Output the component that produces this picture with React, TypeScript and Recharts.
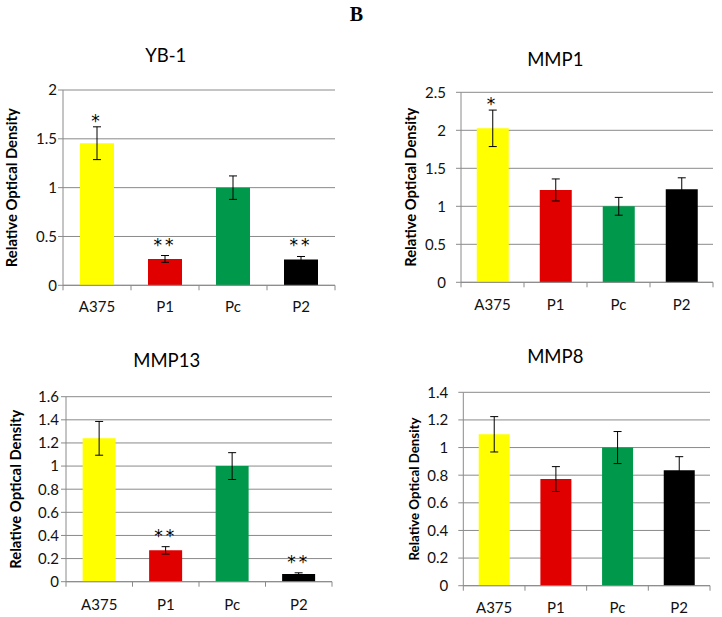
import React from 'react';
import { BarChart, Bar, XAxis, YAxis, CartesianGrid, ErrorBar, Cell, ReferenceDot, Label, Text } from 'recharts';

const categories = ['A375', 'P1', 'Pc', 'P2'];
const barColors = ['#FFFF00', '#E00000', '#00994C', '#000000'];

const yb1Values = [1.455, 0.27, 1.0, 0.265];
const yb1ErrLow = [0.168, 0.035, 0.12, 0.03];
const yb1ErrHigh = [0.168, 0.035, 0.12, 0.03];
const yb1Stars = ['*', '**', '', '**'];
const yb1Ticks = [0, 0.5, 1, 1.5, 2];

const mmp1Values = [2.026, 1.215, 1.0, 1.225];
const mmp1ErrLow = [0.24, 0.145, 0.117, 0.15];
const mmp1ErrHigh = [0.24, 0.145, 0.117, 0.15];
const mmp1Stars = ['*', '', '', ''];
const mmp1Ticks = [0, 0.5, 1, 1.5, 2, 2.5];

const mmp13Values = [1.24, 0.271, 1.0, 0.066];
const mmp13ErrLow = [0.146, 0.032, 0.116, 0.011];
const mmp13ErrHigh = [0.146, 0.032, 0.116, 0.011];
const mmp13Stars = ['', '**', '', '**'];
const mmp13Ticks = [0, 0.2, 0.4, 0.6, 0.8, 1, 1.2, 1.4, 1.6];

const mmp8Values = [1.096, 0.772, 1.0, 0.835];
const mmp8ErrLow = [0.128, 0.09, 0.116, 0.099];
const mmp8ErrHigh = [0.128, 0.09, 0.116, 0.099];
const mmp8Stars = ['', '', '', ''];
const mmp8Ticks = [0, 0.2, 0.4, 0.6, 0.8, 1, 1.2, 1.4];

const FONT = 'Lato, "Open Sans", sans-serif';
const GRID = '#8a8a8a';

type PanelProps = {
  left: number; top: number; width: number; height: number;
  margin: { top: number; right: number; bottom: number; left: number };
  yAxisWidth: number; yTickMargin: number; xTickMargin: number;
  title: string; titleX: number; titleTop: number;
  values: number[]; errLow: number[]; errHigh: number[]; stars: string[];
  ticks: number[]; labelSize: number; labelDx: number;
};

function CatTick(props: any) {
  const { x, y, payload, tickMargin, count } = props;
  const half = payload?.offset ?? 0;
  const axisY = y - tickMargin;
  const isLast = payload?.index === count - 1;
  return (
    <g>
      <line x1={x - half} x2={x - half} y1={axisY} y2={axisY + 5} stroke={GRID} />
      {isLast && <line x1={x + half} x2={x + half} y1={axisY} y2={axisY + 5} stroke={GRID} />}
      <Text x={x} y={y} textAnchor="middle" verticalAnchor="start" fontSize={15} fill="#111" fontFamily={FONT}>
        {payload?.value}
      </Text>
    </g>
  );
}

function Panel(p: PanelProps) {
  const rows = categories.map((c, i) => ({
    name: c,
    value: p.values[i],
    err: [p.errLow[i], p.errHigh[i]],
    top: p.values[i] + p.errHigh[i],
    star: p.stars[i],
  }));
  const domain = [p.ticks[0], p.ticks[p.ticks.length - 1]];
  return (
    <div style={{ position: 'absolute', left: p.left, top: p.top, width: p.width, height: p.height }}>
      <div style={{ position: 'absolute', left: p.titleX - 100, width: 200, top: p.titleTop, textAlign: 'center', fontFamily: FONT, fontSize: 18.5, lineHeight: '18.5px', color: '#000' }}>{p.title}</div>
      <BarChart width={p.width} height={p.height} data={rows} margin={p.margin} barCategoryGap="25%">
        <CartesianGrid vertical={false} stroke={GRID} />
        <XAxis xAxisId="cat" dataKey="name" height={1} interval={0} axisLine={{ stroke: GRID }} tickLine={false}
          tickSize={0} tickMargin={p.xTickMargin}
          tick={(tp: any) => <CatTick {...tp} tickMargin={p.xTickMargin} count={categories.length} />} />
        <YAxis domain={domain} ticks={p.ticks} width={p.yAxisWidth} interval={0} axisLine={{ stroke: GRID }}
          tickLine={{ stroke: GRID }} tickSize={5} tickMargin={p.yTickMargin}
          tick={{ fontSize: 15, fill: '#111', fontFamily: FONT }}>
          <Label value="Relative Optical Density" angle={-90} position="center" dx={p.labelDx}
            style={{ fontFamily: FONT, fontWeight: 700, fontSize: p.labelSize, fill: '#000' }} />
        </YAxis>
        <Bar xAxisId="cat" dataKey="value" isAnimationActive={false}>
          {rows.map((r, i) => <Cell key={r.name} fill={barColors[i]} />)}
          <ErrorBar dataKey="err" width={4} stroke="#000" strokeWidth={1} />
        </Bar>
        {rows.filter(r => r.star).map(r => (
          <ReferenceDot key={r.name} xAxisId="cat" x={r.name} y={r.top} r={0} stroke="none" fill="none"
            label={{ value: r.star, position: 'top', offset: r.star.length > 1 ? 5 : 0, fontSize: 17, fill: '#000', fontFamily: '"DejaVu Sans", sans-serif', letterSpacing: 3 }} />
        ))}
      </BarChart>
    </div>
  );
}

export default function App() {
  return (
    <div style={{ position: 'absolute', left: 0, top: 0, width: 722, height: 617, background: '#fff', overflow: 'hidden' }}>
      <div style={{ position: 'absolute', left: 256.5, width: 200, top: 4, textAlign: 'center', fontFamily: '"Liberation Serif", serif', fontWeight: 700, fontSize: 20, lineHeight: '20px' }}>B</div>
      <Panel left={0} top={40} width={360} height={280}
        margin={{ top: 50, right: 25, bottom: 33.7, left: 0 }} yAxisWidth={63} yTickMargin={1} xTickMargin={16}
        title="YB-1" titleX={165.8} titleTop={45.5 - 40}
        values={yb1Values} errLow={yb1ErrLow} errHigh={yb1ErrHigh} stars={yb1Stars} ticks={yb1Ticks}
        labelSize={14.8} labelDx={-19.5} />
      <Panel left={360} top={40} width={362} height={280}
        margin={{ top: 52.3, right: 9, bottom: 36.7, left: 0 }} yAxisWidth={101} yTickMargin={10} xTickMargin={17}
        title="MMP1" titleX={195.3} titleTop={49.5 - 40}
        values={mmp1Values} errLow={mmp1ErrLow} errHigh={mmp1ErrHigh} stars={mmp1Stars} ticks={mmp1Ticks}
        labelSize={14.8} labelDx={0.5} />
      <Panel left={0} top={320} width={360} height={297}
        margin={{ top: 76.7, right: 28, bottom: 34.3, left: 0 }} yAxisWidth={66} yTickMargin={2} xTickMargin={17.5}
        title="MMP13" titleX={166.7} titleTop={351.3 - 320}
        values={mmp13Values} errLow={mmp13ErrLow} errHigh={mmp13ErrHigh} stars={mmp13Stars} ticks={mmp13Ticks}
        labelSize={14.8} labelDx={-17.5} />
      <Panel left={360} top={320} width={362} height={297}
        margin={{ top: 72.3, right: 12, bottom: 30.3, left: 0 }} yAxisWidth={103.3} yTickMargin={10} xTickMargin={16.5}
        title="MMP8" titleX={195.3} titleTop={347 - 320}
        values={mmp8Values} errLow={mmp8ErrLow} errHigh={mmp8ErrHigh} stars={mmp8Stars} ticks={mmp8Ticks}
        labelSize={13.3} labelDx={2.9} />
    </div>
  );
}
